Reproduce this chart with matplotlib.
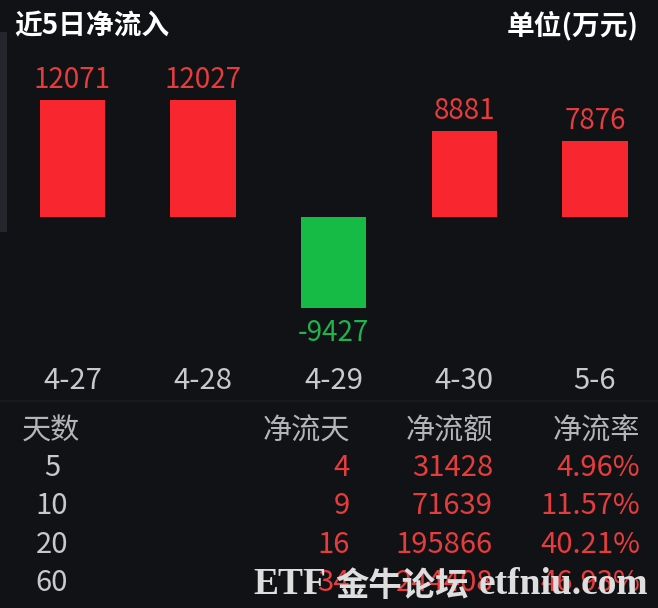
import matplotlib
matplotlib.use("Agg")
from matplotlib import pyplot as plt
from matplotlib.patches import Rectangle

plt.rcParams['font.family'] = ['Noto Sans CJK SC', 'DejaVu Sans']

# bar data (unit: 10k yuan)
dates = ['4-27', '4-28', '4-29', '4-30', '5-6']
flows = [12071, 12027, -9427, 8881, 7876]

# summary table
days = ['5', '10', '20', '60']
flow_days = ['4', '9', '16', '34']
flow_amount = ['31428', '71639', '195866', '244408']
flow_rate = ['4.96%', '11.57%', '40.21%', '46.93%']
headers = ['天数', '净流天', '净流额', '净流率']

BG = '#101216'
RED = '#f8262f'
GREEN = '#16bb45'
RED_TXT = '#e63c3c'
GREEN_TXT = '#22b24c'
GREY = '#c9c9c9'

W, H = 658, 608
fig = plt.figure(figsize=(W / 100, H / 100), dpi=100, facecolor=BG)


def px(x, y):
    return x / W, 1 - y / H


# left edge strip
fig.patches.append(Rectangle(px(0, 232), 7 / W, 200 / H, transform=fig.transFigure,
                             facecolor='#24262b', edgecolor='none'))

# title row
fig.text(*px(14, 26), '近5日净流入', color='white', fontsize=20, fontweight='bold',
         ha='left', va='center')
fig.text(*px(639, 26), '单位(万元)', color='white', fontsize=20, fontweight='bold',
         ha='right', va='center')

# bar chart: axes from y=40 to y=400 px, baseline at 217 px
top_px, bot_px, base_px = 40, 400, 217
u_per_px = 12071 / (base_px - 100)
ax = fig.add_axes([7.2 / W, (H - bot_px) / H, 653 / W, (bot_px - top_px) / H])
ax.set_facecolor('none')
ax.set_xlim(-0.5, 4.5)
ax.set_ylim(-(bot_px - base_px) * u_per_px, (base_px - top_px) * u_per_px)
ax.axis('off')

colors = [RED if v >= 0 else GREEN for v in flows]
ax.bar(range(len(flows)), flows, width=0.5, color=colors)

for i, v in enumerate(flows):
    if v >= 0:
        ax.annotate(str(v), (i, v), xytext=(0, 12), textcoords='offset pixels',
                    ha='center', va='baseline', color=RED_TXT, fontsize=20)
    else:
        ax.annotate(str(v), (i, v), xytext=(0, -33), textcoords='offset pixels',
                    ha='center', va='baseline', color=GREEN_TXT, fontsize=20)
    ax.annotate(dates[i], (i, 0), xycoords=('data', 'axes fraction'),
                xytext=(0, 11), textcoords='offset pixels',
                ha='center', va='baseline', color=GREY, fontsize=21)

# separator
fig.add_artist(plt.Line2D([0, 1], [1 - 401 / H] * 2, color='#1a1c22', lw=1.2))

# table
col_x = [22, 350, 493, 640]
fig.text(*px(col_x[0], 432), headers[0], color='#b5b5b5', fontsize=21, ha='left', va='center')
for x, h in zip(col_x[1:], headers[1:]):
    fig.text(*px(x, 432), h, color='#b5b5b5', fontsize=21, ha='right', va='center')

row_y = [468, 506, 545, 583]
for y, d, n, a, r in zip(row_y, days, flow_days, flow_amount, flow_rate):
    fig.text(*px(52, y), d, color=GREY, fontsize=21, ha='center', va='center')
    fig.text(*px(col_x[1], y), n, color=RED_TXT, fontsize=21, fontweight='medium',
             ha='right', va='center')
    fig.text(*px(col_x[2], y), a, color=RED_TXT, fontsize=21, fontweight='medium',
             ha='right', va='center')
    fig.text(*px(col_x[3], y), r, color=RED_TXT, fontsize=21, fontweight='medium',
             ha='right', va='center')

# watermark
WM = '#dedede'
fig.text(*px(253, 594), 'ETF', color=WM, fontsize=27, fontweight='bold',
         family='Liberation Serif', ha='left', va='baseline')
fig.text(*px(335, 596), '金牛论坛', color=WM, fontsize=24, fontweight='bold',
         ha='left', va='baseline')
fig.text(*px(479, 594), 'etfniu.com', color=WM, fontsize=27, fontweight='bold',
         family='Liberation Serif', ha='left', va='baseline')

fig.savefig('out.png', dpi=100, facecolor=BG)
